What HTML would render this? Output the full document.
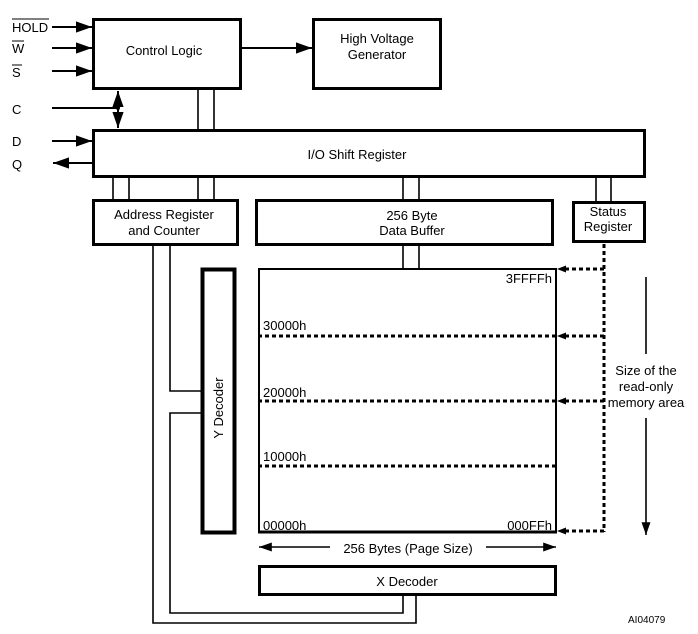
<!DOCTYPE html>
<html><head><style>
body{margin:0;background:#fff;}
svg{display:block;font-family:"Liberation Sans",Arial,sans-serif;}
</style></head><body>
<svg width="698" height="634" viewBox="0 0 698 634" xmlns="http://www.w3.org/2000/svg">
<defs>
<marker id="a" viewBox="0 0 10 10" refX="10" refY="5" markerWidth="8" markerHeight="8" orient="auto-start-reverse"><path d="M0,1.5 L10,5 L0,8.5 z" fill="#000"/></marker>
</defs>
<g fill="none" stroke="#000">
<rect x="93.5" y="19.5" width="147" height="69" stroke-width="3"/>
<rect x="313.5" y="19.5" width="127" height="69" stroke-width="3"/>
<rect x="93.5" y="130.5" width="551" height="46" stroke-width="3"/>
<rect x="93.5" y="200.5" width="144" height="44" stroke-width="3"/>
<rect x="256.5" y="200.5" width="296" height="44" stroke-width="3"/>
<rect x="573.5" y="202.5" width="71" height="39" stroke-width="3"/>
<rect x="259" y="269" width="297" height="263" stroke-width="2"/>
<line x1="258" y1="532" x2="557" y2="532" stroke-width="3"/>
<rect x="202.5" y="269.5" width="32" height="263" stroke-width="4"/>
<rect x="259.5" y="566.5" width="296" height="28" stroke-width="3"/>
<g stroke-width="1.6">
<line x1="198" y1="89" x2="198" y2="130"/><line x1="214" y1="89" x2="214" y2="130"/>
<line x1="113" y1="177" x2="113" y2="200"/><line x1="129" y1="177" x2="129" y2="200"/>
<line x1="198" y1="177" x2="198" y2="200"/><line x1="214" y1="177" x2="214" y2="200"/>
<line x1="403" y1="177" x2="403" y2="200"/><line x1="419" y1="177" x2="419" y2="200"/>
<line x1="596" y1="177" x2="596" y2="202"/><line x1="611" y1="177" x2="611" y2="202"/>
<line x1="403" y1="245" x2="403" y2="269"/><line x1="419" y1="245" x2="419" y2="269"/>
<polyline points="153,245 153,623 416,623 416,595"/>
<polyline points="170,245 170,391 202,391"/>
<polyline points="202,413 170,413 170,613 403,613 403,595"/>
</g>
<g stroke-width="2">
<line x1="52" y1="27" x2="92" y2="27" marker-end="url(#a)"/>
<line x1="52" y1="48" x2="92" y2="48" marker-end="url(#a)"/>
<line x1="52" y1="71" x2="92" y2="71" marker-end="url(#a)"/>
<line x1="52" y1="108" x2="118" y2="108"/>
<line x1="118" y1="91" x2="118" y2="128" marker-start="url(#a)" marker-end="url(#a)"/>
<line x1="52" y1="141" x2="92" y2="141" marker-end="url(#a)"/>
<line x1="92" y1="163" x2="53" y2="163" marker-end="url(#a)"/>
<line x1="241" y1="48" x2="312" y2="48" marker-end="url(#a)"/>
</g>
<circle cx="118" cy="108" r="2" fill="#000" stroke="none"/>
<g stroke-width="3" stroke-dasharray="4,3">
<line x1="604" y1="244" x2="604" y2="532"/>
<line x1="258" y1="336" x2="556" y2="336"/>
<line x1="258" y1="401" x2="556" y2="401"/>
<line x1="258" y1="466" x2="556" y2="466"/>
<line x1="604" y1="269" x2="562" y2="269"/>
<line x1="604" y1="336" x2="562" y2="336"/>
<line x1="604" y1="401" x2="562" y2="401"/>
<line x1="604" y1="531" x2="562" y2="531"/>
</g>
<g fill="#000" stroke="none">
<path d="M557,269 L566,265.5 L566,272.5z"/>
<path d="M557,336 L566,332.5 L566,339.5z"/>
<path d="M557,401 L566,397.5 L566,404.5z"/>
<path d="M557,531 L566,527.5 L566,534.5z"/>
</g>
<g stroke-width="1.6">
<line x1="646" y1="277" x2="646" y2="354"/>
<line x1="646" y1="418" x2="646" y2="535" marker-end="url(#a)"/>
<line x1="330" y1="547" x2="259" y2="547" marker-end="url(#a)"/>
<line x1="486" y1="547" x2="556" y2="547" marker-end="url(#a)"/>
</g>
</g>
<g font-size="13" fill="#000">
<text x="12" y="32">HOLD</text>
<line x1="12" y1="19" x2="49" y2="19" stroke="#000" stroke-width="1"/>
<text x="12" y="53">W</text>
<line x1="12" y1="41" x2="24" y2="41" stroke="#000" stroke-width="1"/>
<text x="12" y="77">S</text>
<line x1="12" y1="65" x2="22" y2="65" stroke="#000" stroke-width="1"/>
<text x="12" y="114">C</text>
<text x="12" y="146">D</text>
<text x="12" y="169">Q</text>
<text x="164" y="55" text-anchor="middle">Control Logic</text>
<text x="377" y="43" text-anchor="middle">High Voltage</text>
<text x="377" y="59" text-anchor="middle">Generator</text>
<text x="357" y="159" text-anchor="middle">I/O Shift Register</text>
<text x="164" y="219" text-anchor="middle">Address Register</text>
<text x="164" y="235" text-anchor="middle">and Counter</text>
<text x="412" y="220" text-anchor="middle">256 Byte</text>
<text x="412" y="235" text-anchor="middle">Data Buffer</text>
<text x="608" y="216" text-anchor="middle">Status</text>
<text x="608" y="231" text-anchor="middle">Register</text>
<text x="552" y="283" text-anchor="end">3FFFFh</text>
<text x="263" y="330">30000h</text>
<text x="263" y="397">20000h</text>
<text x="263" y="461">10000h</text>
<text x="263" y="530">00000h</text>
<text x="552" y="530" text-anchor="end">000FFh</text>
<text x="408" y="553" text-anchor="middle">256 Bytes (Page Size)</text>
<text x="407" y="586" text-anchor="middle">X Decoder</text>
<text transform="translate(223,408) rotate(-90)" text-anchor="middle">Y Decoder</text>
<text x="646" y="375" text-anchor="middle">Size of the</text>
<text x="646" y="391" text-anchor="middle">read-only</text>
<text x="646" y="407" text-anchor="middle">memory area</text>
<text x="628" y="623" font-size="10">AI04079</text>
</g>
</svg>
</body></html>
